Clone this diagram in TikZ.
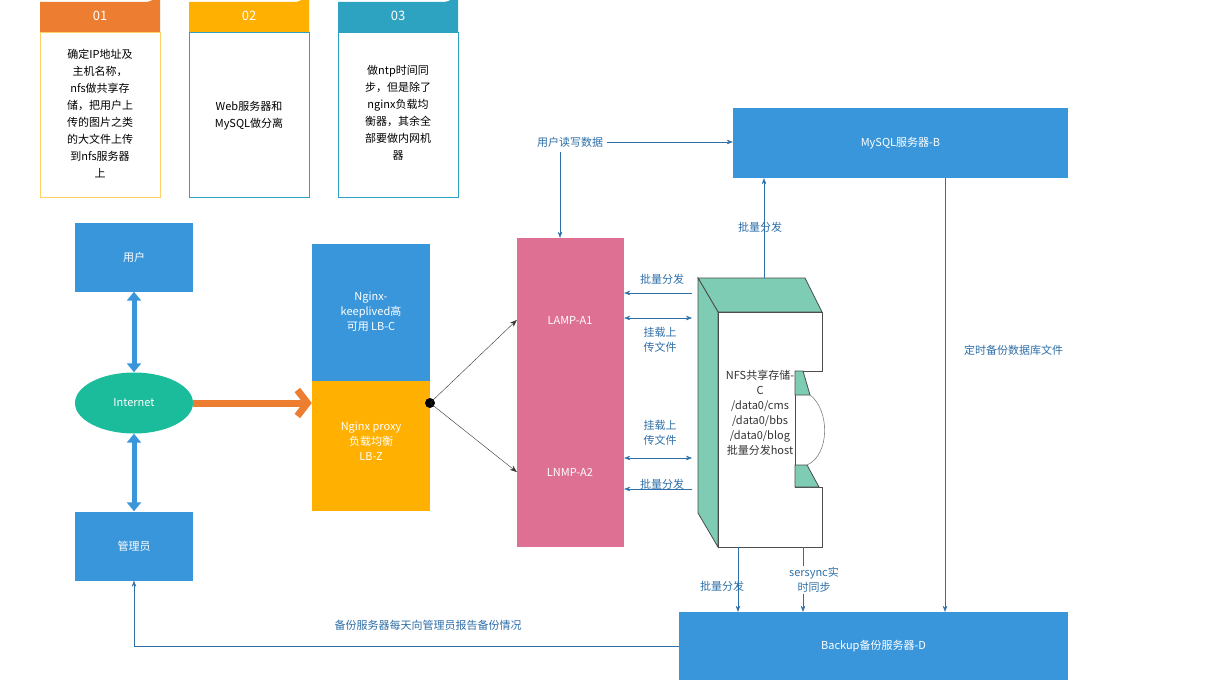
\documentclass[tikz,border=0pt]{standalone}
\usepackage{fontspec}
\setmainfont{Noto Sans CJK SC}
\usetikzlibrary{arrows.meta,positioning,shapes.geometric}
\definecolor{boxblue}{HTML}{3A96DB}
\definecolor{linkblue}{HTML}{2E6FA8}
\definecolor{hdorange}{HTML}{ED7D31}
\definecolor{hdyellow}{HTML}{FFB000}
\definecolor{hdteal}{HTML}{2EA3C1}
\definecolor{pinkbox}{HTML}{DE7094}
\definecolor{nfsgreen}{HTML}{7FCCB5}
\definecolor{netgreen}{HTML}{1ABC9C}
\tikzset{
  box/.style={draw=none,fill=boxblue,text=white,minimum width=118pt,minimum height=69pt,font=\fontsize{11}{15}\selectfont},
  lbl/.style={text=linkblue,font=\fontsize{11}{15}\selectfont,align=center},
  link/.style={linkblue,-{Stealth[length=6pt]}},
  card/.style={text width=112pt,align=center,font=\fontsize{11}{17}\selectfont,inner sep=0pt}
}
\begin{document}
\begin{tikzpicture}[x=1pt,y=-1pt]
\useasboundingbox (0,0) rectangle (1226,685);
\fill[white] (0,0) rectangle (1226,685);

% cards
\foreach \xo/\hc/\bc/\nr in {40/hdorange/hdyellow!60/01,189/hdyellow/hdteal/02,338/hdteal/hdteal/03}{
\draw[\bc] (\xo,32) rectangle (\xo+120,197);
\fill[\hc] (\xo,32) -- (\xo,2) -- (\xo+105,2) arc (90:0:15) -- (\xo+120,32) -- cycle;
\node[white,font=\fontsize{13}{15}\selectfont] at (\xo+60,16) {\nr};
}
\node[card] (c1) at (100,114) {确定IP地址及\\主机名称，\\nfs做共享存\\储，把用户上\\传的图片之类\\的大文件上传\\到nfs服务器\\上};
\node[card] (c2) at (249,116) {Web服务器和\\MySQL做分离};
\node[card] (c3) at (398,113) {做ntp时间同\\步，但是除了\\nginx负载均\\衡器，其余全\\部要做内网机\\器};

% left side
\node[box] (user) at (134,257) {用户};
\node[ellipse,fill=netgreen,text=white,minimum width=118pt,minimum height=61pt,font=\fontsize{11}{15}\selectfont] (net) at (134,403) {Internet};
\node[box] (admin) at (134,546) {管理员};
\begin{scope}[boxblue,line width=5pt,{Triangle[length=9pt,width=14pt]}-{Triangle[length=9pt,width=14pt]}]
\draw (user) -- (net);
\draw (net) -- (admin);
\end{scope}

\node[box,minimum height=137pt] (ngup) at (371,312.5) {};
\node[box,fill=hdyellow,minimum height=130pt] (ngdn) at (371,446) {};
\node[white,align=center,font=\fontsize{11}{15}\selectfont] at (371,312) {Nginx-\\keeplived高\\可用 LB-C};
\node[white,align=center,font=\fontsize{11}{15}\selectfont] at (371,441) {Nginx proxy\\负载均衡\\LB-Z};
\draw[hdorange,line width=7pt,-{Straight Barb[length=10pt,width=26pt]}] (net.east) -- (ngdn.west|-net.east);

\node[fill=pinkbox,minimum width=107pt,minimum height=309pt] (web) at (570.5,392.5) {};
\node[white,font=\fontsize{11}{15}\selectfont] (a1) at (570,320) {LAMP-A1};
\node[white,font=\fontsize{11}{15}\selectfont] (a2) at (570,472) {LNMP-A2};
\fill[black] (430,403) circle (5pt) coordinate (lb);
\draw[black!80,-{Stealth[length=7pt]}] (lb) -- (web.west|-a1);
\draw[black!80,-{Stealth[length=7pt]}] (lb) -- (web.west|-a2);

% nfs
\begin{scope}[draw=black!70,line width=0.8pt]
\filldraw[fill=nfsgreen] (698,278) -- (805,278) -- (822,312) -- (718,312) -- cycle;
\filldraw[fill=nfsgreen] (698,278) -- (718,312) -- (718,547) -- (698,513) -- cycle;
\filldraw[fill=white] (718,312) -- (822,312) -- (822,371) -- (795,371) -- (795,487) -- (822,487) -- (822,547) -- (718,547) -- cycle;
\filldraw[fill=nfsgreen] (795,371) -- (803,371) -- (810,395) -- (795,395) -- cycle;
\filldraw[fill=nfsgreen] (795,465) -- (807,465) -- (819,487) -- (795,487) -- cycle;
\draw[black!50,line width=0.6pt] (810,395) .. controls (830,410) and (830,455) .. (807,465);
\end{scope}
\node[text=black!80,align=center,font=\fontsize{11}{15}\selectfont,inner sep=0pt] (nfs) at (760,413) {NFS共享存储-\\C\\/data0/cms\\/data0/bbs\\/data0/blog\\批量分发host};
\coordinate (nfstop) at (764,278);

% servers
\node[box,minimum width=335pt,minimum height=70pt] (mysql) at (900.5,143) {MySQL服务器-B};
\node[box,minimum width=389pt,minimum height=68pt] (backup) at (873.5,646) {Backup备份服务器-D};

% links
\node[lbl] (rw) at (570,142) {用户读写数据};
\draw[link] (rw.east) -- (mysql.west|-rw.east);
\draw[link] (560,152) -- (web.north-|560,0);
\draw[link] (nfstop) -- (mysql.south-|nfstop);
\node[lbl] at (760,227) {批量分发};

\coordinate (p1) at (692,293); \coordinate (p2) at (692,318);
\coordinate (p3) at (692,458); \coordinate (p4) at (692,489);
\draw[link] (p1) -- (web.east|-p1);
\draw[link,{Stealth[length=6pt]}-{Stealth[length=6pt]}] (web.east|-p2) -- (p2);
\draw[link,{Stealth[length=6pt]}-{Stealth[length=6pt]}] (web.east|-p3) -- (p3);
\draw[link] (p4) -- (web.east|-p4);
\node[lbl] at (662,279) {批量分发};
\node[lbl] at (660,340) {挂载上\\传文件};
\node[lbl] at (660,433) {挂载上\\传文件};
\node[lbl] at (662,484) {批量分发};

\coordinate (n1) at (738,547); \coordinate (n2) at (803,547);
\draw[link] (n1) -- (backup.north-|n1);
\draw[link] (n2) -- (backup.north-|n2);
\node[lbl] at (722,586) {批量分发};
\node[lbl,fill=white,inner sep=1pt] at (814,580) {sersync实\\时同步};

\draw[link] (mysql.south-|945,0) -- (backup.north-|945,0);
\node[lbl,text width=12pt,font=\fontsize{11}{17}\selectfont] at (970,350) {定时备份数据库文件};

\draw[link] (backup.west) -- (134,646) -- (admin.south);
\node[lbl] at (428,625) {备份服务器每天向管理员报告备份情况};
\end{tikzpicture}
\end{document}
